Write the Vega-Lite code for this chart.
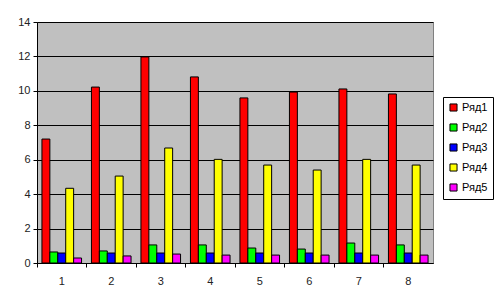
{
  "$schema": "https://vega.github.io/schema/vega-lite/v6.json",
  "width": 396,
  "height": 241,
  "autosize": "none",
  "padding": {"left": 37, "top": 22, "right": 65, "bottom": 40},
  "background": "white",
  "config": {
    "view": {"fill": "#C0C0C0", "stroke": "#808080", "strokeWidth": 1},
    "font": "Liberation Sans"
  },
  "data": {
    "values": [
      {"c": "1", "s": "Ряд1", "v": 7.2}, {"c": "1", "s": "Ряд2", "v": 0.64}, {"c": "1", "s": "Ряд3", "v": 0.58}, {"c": "1", "s": "Ряд4", "v": 4.34}, {"c": "1", "s": "Ряд5", "v": 0.29},
      {"c": "2", "s": "Ряд1", "v": 10.22}, {"c": "2", "s": "Ряд2", "v": 0.7}, {"c": "2", "s": "Ряд3", "v": 0.58}, {"c": "2", "s": "Ряд4", "v": 5.05}, {"c": "2", "s": "Ряд5", "v": 0.41},
      {"c": "3", "s": "Ряд1", "v": 11.97}, {"c": "3", "s": "Ряд2", "v": 1.05}, {"c": "3", "s": "Ряд3", "v": 0.58}, {"c": "3", "s": "Ряд4", "v": 6.68}, {"c": "3", "s": "Ряд5", "v": 0.52},
      {"c": "4", "s": "Ряд1", "v": 10.81}, {"c": "4", "s": "Ряд2", "v": 1.05}, {"c": "4", "s": "Ряд3", "v": 0.58}, {"c": "4", "s": "Ряд4", "v": 6.02}, {"c": "4", "s": "Ряд5", "v": 0.46},
      {"c": "5", "s": "Ряд1", "v": 9.59}, {"c": "5", "s": "Ряд2", "v": 0.87}, {"c": "5", "s": "Ряд3", "v": 0.58}, {"c": "5", "s": "Ряд4", "v": 5.69}, {"c": "5", "s": "Ряд5", "v": 0.46},
      {"c": "6", "s": "Ряд1", "v": 9.93}, {"c": "6", "s": "Ряд2", "v": 0.81}, {"c": "6", "s": "Ряд3", "v": 0.58}, {"c": "6", "s": "Ряд4", "v": 5.4}, {"c": "6", "s": "Ряд5", "v": 0.46},
      {"c": "7", "s": "Ряд1", "v": 10.11}, {"c": "7", "s": "Ряд2", "v": 1.16}, {"c": "7", "s": "Ряд3", "v": 0.58}, {"c": "7", "s": "Ряд4", "v": 6.02}, {"c": "7", "s": "Ряд5", "v": 0.46},
      {"c": "8", "s": "Ряд1", "v": 9.82}, {"c": "8", "s": "Ряд2", "v": 1.05}, {"c": "8", "s": "Ряд3", "v": 0.58}, {"c": "8", "s": "Ряд4", "v": 5.69}, {"c": "8", "s": "Ряд5", "v": 0.46}
    ]
  },
  "mark": {"type": "bar", "stroke": "black", "strokeWidth": 1},
  "encoding": {
    "x": {
      "field": "c", "type": "nominal",
      "scale": {"paddingInner": 0, "paddingOuter": 0},
      "axis": {
        "title": null, "labelAngle": 0, "bandPosition": 0, "labelColor": "#222",
        "labelFontSize": 11, "labelPadding": 8, "tickSize": 4, "tickColor": "black",
        "domainColor": "black", "grid": false
      }
    },
    "xOffset": {
      "field": "s", "type": "nominal",
      "scale": {"paddingInner": 0, "paddingOuter": 0.625}
    },
    "y": {
      "field": "v", "type": "quantitative",
      "scale": {"domain": [0, 14], "nice": false},
      "axis": {
        "title": null, "values": [0, 2, 4, 6, 8, 10, 12, 14], "labelColor": "#222",
        "labelFontSize": 11, "tickSize": 4, "tickColor": "black", "domainColor": "black",
        "gridColor": "black", "gridOpacity": 1, "gridWidth": 1, "labelPadding": 3
      }
    },
    "color": {
      "field": "s", "type": "nominal",
      "scale": {"domain": ["Ряд1", "Ряд2", "Ряд3", "Ряд4", "Ряд5"], "range": ["#FF0000", "#00FF00", "#0000FF", "#FFFF00", "#FF00FF"]},
      "legend": {
        "title": null, "orient": "none", "legendX": 406, "legendY": 75,
        "symbolType": "square", "symbolSize": 50, "symbolStrokeColor": "black", "symbolStrokeWidth": 1,
        "labelFontSize": 11, "labelColor": "black", "labelOffset": 3,
        "rowPadding": 7, "strokeColor": "black", "fillColor": "white", "padding": 5
      }
    }
  }
}
